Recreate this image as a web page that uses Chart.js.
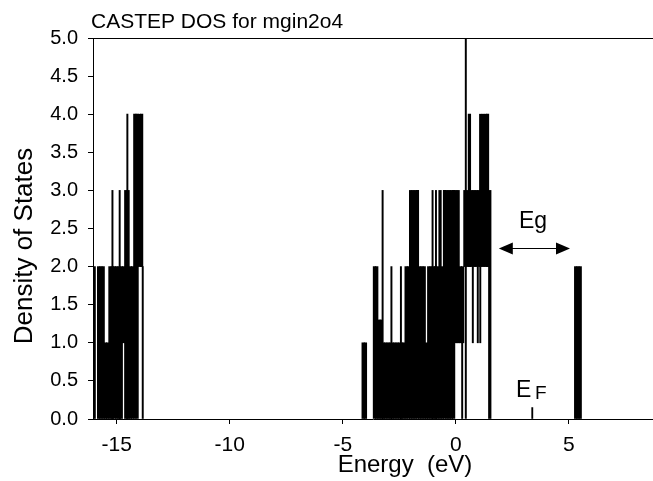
<!DOCTYPE html>
<html>
<head>
<meta charset="utf-8">
<script src="https://cdn.jsdelivr.net/npm/chart.js@4.4.0/dist/chart.umd.min.js"></script>
<style>
  html, body { margin: 0; padding: 0; background: #fff; }
  #wrap { width: 653px; height: 481px; }
</style>
</head>
<body>
<div id="wrap"><canvas id="dos" width="653" height="481"></canvas></div>
<script>
// DOS bins, 0.1 eV wide, drawn as floating bars [bottom, top]
const dosEnergy = [
  -15.8, -15.7, -15.6, -15.5, -15.4, -15.3, -15.2, -15.1, -15.0, -14.9,
  -14.8, -14.7, -14.6, -14.5, -14.4, -14.3, -14.2, -14.1, -14.0, -13.9,
  -4.1, -4.0, -3.6, -3.5, -3.4, -3.3, -3.2, -3.1, -3.0, -2.9,
  -2.8, -2.7, -2.6, -2.5, -2.4, -2.3, -2.2, -2.1, -2.0, -1.9,
  -1.8, -1.7, -1.6, -1.5, -1.4, -1.3, -1.2, -1.1, -1.0, -0.9,
  -0.8, -0.7, -0.6, -0.5, -0.4, -0.3, -0.2, -0.1, 0.0, 0.1,
  0.2, 0.3, 0.4, 0.5, 0.6, 0.7, 0.8, 0.9, 1.0, 1.1,
  1.2, 1.3, 1.4, 1.5,
  5.3, 5.4, 5.5
];
const dosBottom = [
  0, 0, 0, 0, 0, 0, 0, 0, 0, 0,
  0, 1, 0, 0, 0, 0, 0, 0, 2, 2,
  0, 0, 0, 0, 0, 0, 0, 0, 0, 0,
  0, 0, 0, 0, 0, 0, 0, 0, 0, 0,
  0, 0, 0, 0, 0, 0, 0, 0, 0, 0,
  0, 0, 0, 0, 0, 0, 0, 0, 1, 1,
  1, 1, 2, 2, 2, 2, 2, 2, 2, 2,
  2, 2, 2, 0,
  0, 0, 0
];
const dosTop = [
  2, 2, 2, 1, 1, 2, 2, 2, 2, 2,
  2, 2, 3, 3, 2, 2, 4, 4, 4, 4,
  1, 1, 2, 2, 1.3, 1.3, 1, 1, 1, 1,
  1, 1, 1, 1, 1, 1, 2, 2, 3, 3,
  3, 3, 2, 2, 2, 1, 2, 2, 2, 2,
  2, 3, 2, 3, 3, 3, 3, 3, 3, 3,
  2, 2, 3, 3, 4, 3, 3, 3, 3, 4,
  4, 4, 4, 3,
  2, 2, 2
];

// thin single-line spikes
const spikeEnergy = [-15.97, -15.19, -14.87, -14.53, -13.85, -3.24, -2.85, -2.43, -1.03, -0.88, 0.28, 0.44, 0.75, 0.97, 1.08];
const spikeBottom = [0, 0, 0, 0, 0, 0, 0, 0, 0, 0, 0, 0, 1, 1, 1];
const spikeTop    = [2, 3, 3, 4, 2, 3, 2, 2, 3, 3, 1, 5, 2, 2, 2];

// Fermi level mark
const efEnergy = [3.38];
const efTop = [0.15];

const xTicks = [-15, -10, -5, 0, 5];
const yTicks = [0, 0.5, 1, 1.5, 2, 2.5, 3, 3.5, 4, 4.5, 5];

const FONT = "'Liberation Sans', Arial, Helvetica, sans-serif";
Chart.defaults.font.family = FONT;
Chart.defaults.color = '#000';

function bars(energy, bottom, top) {
  return energy.map((e, i) => ({ x: e, y: [bottom[i], top[i]] }));
}

const extras = {
  id: 'extras',
  afterDatasetsDraw(chart) {
    const { ctx, chartArea, scales: { x, y } } = chart;
    ctx.save();
    ctx.strokeStyle = '#000';
    ctx.fillStyle = '#000';
    ctx.lineWidth = 1;
    // top frame line
    ctx.beginPath();
    ctx.moveTo(chartArea.left, chartArea.top + 0.5);
    ctx.lineTo(chartArea.right, chartArea.top + 0.5);
    ctx.stroke();

    // title
    ctx.font = '21px ' + FONT;
    ctx.textAlign = 'left';
    ctx.textBaseline = 'alphabetic';
    ctx.fillText('CASTEP DOS for mgin2o4', 91, 28);

    // axis titles
    ctx.save();
    ctx.textAlign = 'center';
    ctx.font = '24px ' + FONT;
    ctx.fillText('Energy  (eV)', 405, 472);
    ctx.translate(32, 246);
    ctx.rotate(-Math.PI / 2);
    ctx.font = '26px ' + FONT;
    ctx.fillText('Density of States', 0, 0);
    ctx.restore();

    // Eg double arrow
    const ay = Math.round(y.getPixelForValue(2.25)) + 0.5;
    const a1 = x.getPixelForValue(1.9);
    const a2 = x.getPixelForValue(5.05);
    ctx.beginPath();
    ctx.moveTo(a1 + 10, ay);
    ctx.lineTo(a2 - 10, ay);
    ctx.stroke();
    ctx.beginPath();
    ctx.moveTo(a1, ay);
    ctx.lineTo(a1 + 14, ay - 6);
    ctx.lineTo(a1 + 14, ay + 6);
    ctx.closePath();
    ctx.fill();
    ctx.beginPath();
    ctx.moveTo(a2, ay);
    ctx.lineTo(a2 - 14, ay - 6);
    ctx.lineTo(a2 - 14, ay + 6);
    ctx.closePath();
    ctx.fill();

    ctx.font = '23px ' + FONT;
    ctx.fillText('Eg', 519, 228);

    // E_F label
    ctx.font = '23px ' + FONT;
    ctx.fillText('E', 516, 397);
    ctx.font = '19px ' + FONT;
    ctx.fillText('F', 535, 399);
    ctx.restore();
  }
};

new Chart(document.getElementById('dos'), {
  type: 'bar',
  data: {
    datasets: [
      {
        label: 'DOS',
        data: bars(dosEnergy, dosBottom, dosTop),
        backgroundColor: '#000',
        borderWidth: 0,
        barThickness: 2.6,
        grouped: false
      },
      {
        label: 'spikes',
        data: bars(spikeEnergy, spikeBottom, spikeTop),
        backgroundColor: '#000',
        borderWidth: 0,
        barThickness: 1.3,
        grouped: false
      },
      {
        label: 'EF',
        data: efEnergy.map((e, i) => ({ x: e, y: [0, efTop[i]] })),
        backgroundColor: '#000',
        borderWidth: 0,
        barThickness: 1.2,
        grouped: false
      }
    ]
  },
  options: {
    responsive: false,
    animation: false,
    layout: { padding: { top: 38, left: 0, right: 0, bottom: 0 } },
    plugins: { legend: { display: false }, tooltip: { enabled: false }, title: { display: false } },
    scales: {
      x: {
        type: 'linear',
        min: -16.05,
        max: 8.72,
        offset: false,
        afterBuildTicks(scale) { scale.ticks = xTicks.map(v => ({ value: v })); },
        afterFit(scale) { scale.height = 62; },
        grid: { offset: false, drawOnChartArea: false, drawTicks: true, tickLength: 5, color: '#000' },
        border: { display: true, color: '#000', width: 1 },
        ticks: { font: { size: 21 }, padding: 9, maxRotation: 0, autoSkip: false, color: '#000' },
        title: { display: false }
      },
      y: {
        min: 0,
        max: 5,
        afterBuildTicks(scale) { scale.ticks = yTicks.map(v => ({ value: v })); },
        afterFit(scale) { scale.width = 93; },
        grid: { offset: false, drawOnChartArea: false, drawTicks: true, tickLength: 5, color: '#000' },
        border: { display: true, color: '#000', width: 1 },
        ticks: { font: { size: 20 }, padding: 10, color: '#000', callback: v => v.toFixed(1) },
        title: { display: false }
      }
    }
  },
  plugins: [extras]
});
</script>
</body>
</html>
